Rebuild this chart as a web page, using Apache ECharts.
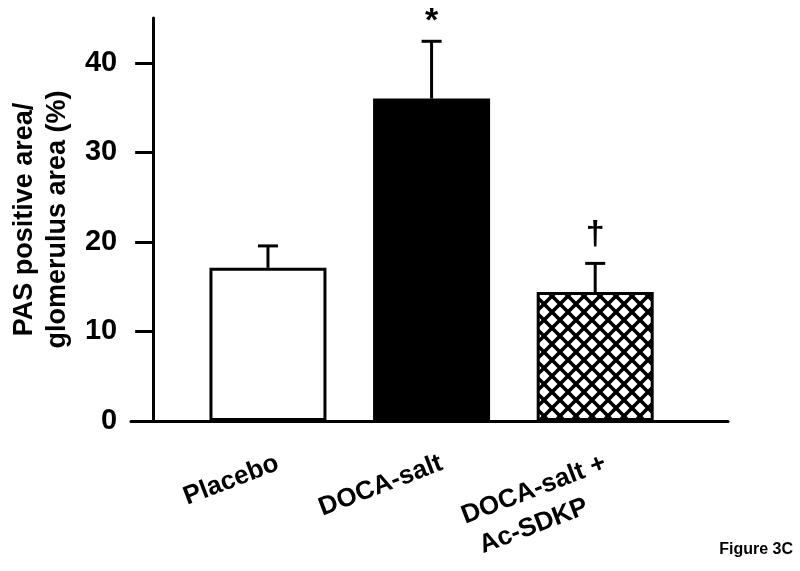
<!DOCTYPE html>
<html>
<head>
<meta charset="utf-8">
<script src="https://cdn.jsdelivr.net/npm/echarts@6/dist/echarts.min.js"></script>
<style>
  html, body { margin: 0; padding: 0; background: #fff; }
  #main { width: 800px; height: 571px; }
</style>
</head>
<body>
<div id="main"></div>
<script>
var FONT = "'Liberation Sans', Arial, Helvetica, sans-serif";

// data
var categories = ['Placebo', 'DOCA-salt', 'DOCA-salt +\nAc-SDKP'];
var means = [17.1, 36.0, 14.4];
var errors = [2.45, 6.4, 3.2];
var marks = ['', '*', '\u2020'];
var yTicks = [0, 10, 20, 30, 40];

// gap between error cap and significance mark (px)
var markGap = {'*': 3, '\u2020': 12};

// crosshatch fill for the third bar
function hatch() {
  var c = document.createElement('canvas');
  c.width = 16; c.height = 16;
  var ctx = c.getContext('2d');
  ctx.fillStyle = '#fff';
  ctx.fillRect(0, 0, 16, 16);
  ctx.strokeStyle = '#000';
  ctx.lineWidth = 3.5;
  [-16, 0, 16].forEach(function (d) {
    ctx.beginPath(); ctx.moveTo(d, 0); ctx.lineTo(d + 16, 16); ctx.stroke();
    ctx.beginPath(); ctx.moveTo(d + 16, 0); ctx.lineTo(d, 16); ctx.stroke();
  });
  return c;
}

var fills = ['#fff', '#000', {image: hatch(), repeat: 'repeat'}];

var chart = echarts.init(document.getElementById('main'));

var labelStyle = {fontSize: 26, fontWeight: 'bold', fontFamily: FONT, color: '#000', lineHeight: 34, align: 'left'};

chart.setOption({
  animation: false,
  backgroundColor: '#fff',
  title: {
    text: 'Figure 3C', right: 7, bottom: 13, padding: 0,
    textStyle: {fontSize: 16, fontWeight: 'bold', fontFamily: FONT, color: '#000'}
  },
  grid: [
    {left: 181, right: 123, top: 18, bottom: 150},
    {left: 131, right: 72, top: 18, bottom: 150}
  ],
  xAxis: [{
    type: 'category',
    gridIndex: 0,
    data: categories,
    axisLine: {show: false},
    axisTick: {show: false},
    axisLabel: {
      rotate: 21,
      margin: 27,
      verticalAlign: 'top',
      padding: [0, -4, 0, 0],
      formatter: function (v) {
        return v.split('\n').map(function (s, i) { return '{' + (i ? 'b' : 'a') + '|' + s + '}'; }).join('\n');
      },
      rich: {
        a: labelStyle,
        b: Object.assign({}, labelStyle, {padding: [0, 0, 0, 6]})
      }
    }
  }, {
    type: 'value',
    gridIndex: 1,
    min: 0, max: 1,
    axisLine: {show: true, lineStyle: {color: '#000', width: 3}},
    axisTick: {show: false},
    axisLabel: {show: false},
    splitLine: {show: false}
  }],
  yAxis: [{
    type: 'value',
    gridIndex: 0,
    min: 0, max: 45,
    offset: 33,
    name: 'PAS positive area/\nglomerulus area (%)',
    nameLocation: 'middle',
    nameGap: 79,
    nameTextStyle: {fontSize: 27, fontWeight: 'bold', fontFamily: FONT, color: '#000', lineHeight: 33},
    axisLine: {show: true, lineStyle: {color: '#000', width: 3}},
    axisTick: {show: true, length: 18, lineStyle: {color: '#000', width: 3}, customValues: yTicks},
    axisLabel: {fontSize: 29, fontWeight: 'bold', fontFamily: FONT, color: '#000', margin: 36, customValues: yTicks},
    splitLine: {show: false}
  }, {
    type: 'value', gridIndex: 1, min: 0, max: 1, show: false
  }],
  series: [{
    type: 'bar',
    xAxisIndex: 0, yAxisIndex: 0,
    barWidth: 117,
    data: means.map(function (m, i) {
      return {value: m, itemStyle: {color: fills[i], borderColor: '#000', borderWidth: 3}};
    })
  }, {
    type: 'custom',
    xAxisIndex: 0, yAxisIndex: 0,
    z: 5,
    data: means.map(function (m, i) { return [i, m, errors[i]]; }),
    renderItem: function (params, api) {
      var i = api.value(0);
      var p0 = api.coord([i, api.value(1)]);
      var p1 = api.coord([i, api.value(1) + api.value(2)]);
      var children = [
        {type: 'line', shape: {x1: p0[0], y1: p0[1], x2: p1[0], y2: p1[1]}, style: {stroke: '#000', lineWidth: 3}},
        {type: 'line', shape: {x1: p1[0] - 10, y1: p1[1], x2: p1[0] + 10, y2: p1[1]}, style: {stroke: '#000', lineWidth: 3}}
      ];
      if (marks[i]) {
        children.push({type: 'text', style: {
          text: marks[i], x: p1[0], y: p1[1] - markGap[marks[i]], align: 'center', verticalAlign: 'bottom',
          font: 'bold 34px ' + FONT, fill: '#000'
        }});
      }
      return {type: 'group', children: children};
    }
  }]
});
</script>
</body>
</html>
